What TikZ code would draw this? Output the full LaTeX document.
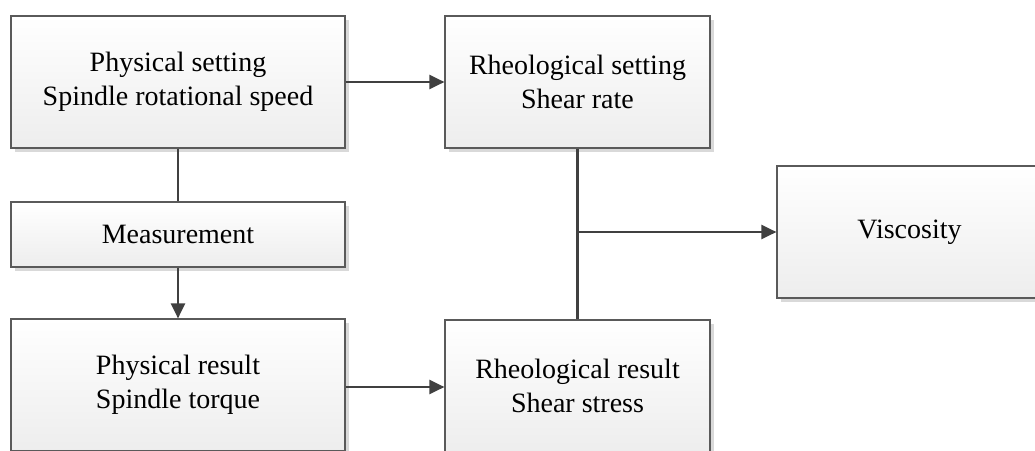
\documentclass[tikz,border=0pt]{standalone}
\usepackage{fontspec}
\setmainfont{Liberation Serif}
\usetikzlibrary{arrows.meta,shadows}
\definecolor{boxline}{HTML}{5A5A5A}
\definecolor{arrowline}{HTML}{404040}
\begin{document}
\begin{tikzpicture}
         [x=1pt, y=-1pt,
          box/.style={rectangle, draw=boxline, line width=1.2pt, top color=white, bottom color=black!7,
             align=center, inner sep=0pt, font=\fontsize{28pt}{34pt}\selectfont,
             drop shadow={shadow xshift=4pt, shadow yshift=-4pt, fill=black!15, opacity=1}},
          big box/.style={box, minimum width=334pt, minimum height=132pt},
          small box/.style={box, minimum width=265pt, minimum height=132pt},
          link/.style={draw=arrowline, line width=2.2pt},
          arrow/.style={link, -{Triangle[length=15pt, width=14pt]}}]
         \clip (0,0) rectangle (1035,450);
         \node[big box] (phys) at (178,82) {Physical setting\\Spindle rotational speed};
         \node[small box] (rheo) at (577.5,82) {Rheological setting\\Shear rate};
         \node[big box, minimum height=65pt] (meas) at (178,234.5) {Measurement};
         \node[big box] (physres) at (178,385) {Physical result\\Spindle torque};
         \node[small box] (rheores) at (577.5,386) {Rheological result\\Shear stress};
         \node[small box] (visc) at (909.5,232) {Viscosity};
         \coordinate (branch) at (rheo.south |- visc.west);
         
         \draw[arrow] (phys) -- (rheo);
         \draw[link] (phys) -- (meas);
         \draw[arrow] (meas) -- (physres);
         \draw[arrow] (physres.east |- 0,387) -- (rheores.west |- 0,387);
         
         \draw[link] (rheo) -- (rheores);
         \draw[arrow] (branch) -- (visc);
      \end{tikzpicture}
\end{document}
